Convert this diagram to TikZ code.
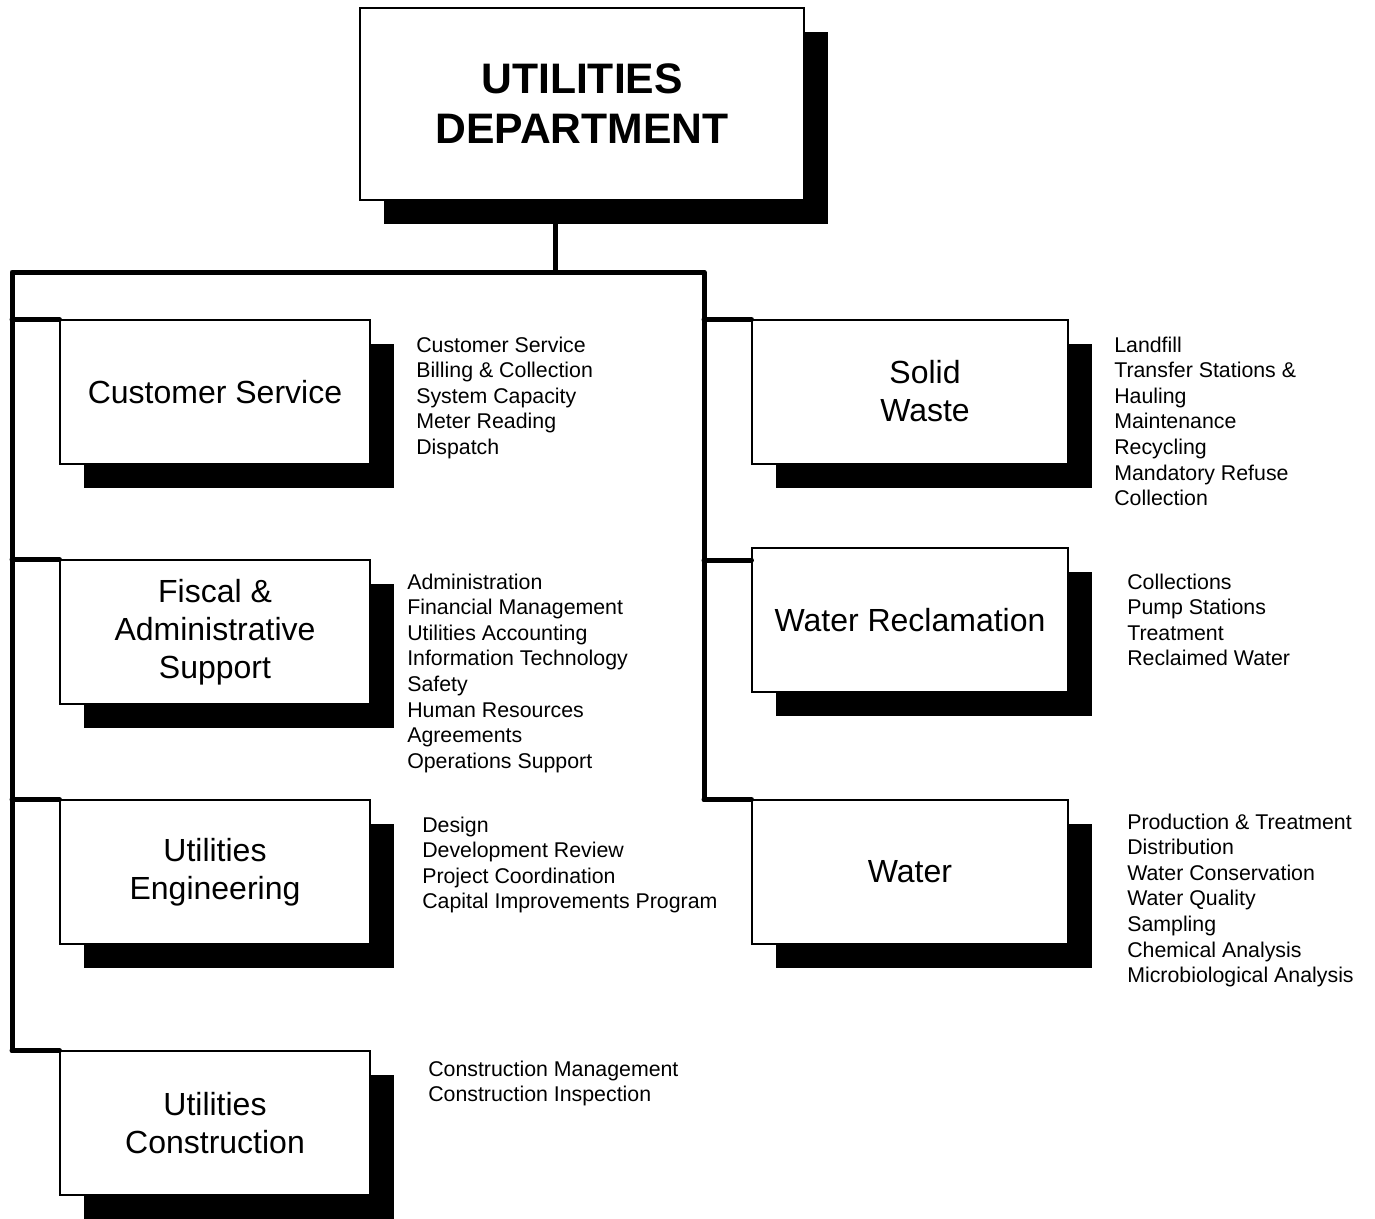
\documentclass[tikz,border=0pt]{standalone}
\usepackage{fontspec}
\setmainfont{Liberation Sans}
\usetikzlibrary{shadows}
\begin{document}
\begin{tikzpicture}[x=0.75pt,y=-0.75pt,
  box/.style={draw=black, line width=0.8pt, fill=white, minimum height=108pt, align=center, inner sep=0pt,
    drop shadow={shadow xshift=18pt, shadow yshift=-18pt, fill=black, opacity=1},
    font=\fontsize{24}{28.5}\selectfont},
  lbox/.style={box, minimum width=232.5pt},
  rbox/.style={box, minimum width=237pt},
  bus/.style={line width=3.75pt, line join=round, line cap=round},
  lst/.style={anchor=base west, inner sep=0pt, font=\fontsize{16}{19.24}\selectfont},
  lbl/.style={inner sep=0pt, align=center, font=\fontsize{24}{28.5}\selectfont}
]
\useasboundingbox (0,0) rectangle (1375,1218);

% top box
\node[box, minimum width=333pt, minimum height=144pt, font=\bfseries\fontsize{32}{37.5}\selectfont] (top) at (582,104) {UTILITIES\\DEPARTMENT};

% left boxes
\node[lbox] (cs) at (215,392) {Customer Service};
\node[lbox] (fa) at (215,632) {Fiscal \&\\Administrative\\Support};
\node[lbox] (ue) at (215,872) {Utilities\\Engineering};
\node[lbox] (uc) at (215,1123) {Utilities\\Construction};

% right boxes
\node[rbox] (sw) at (910,392) {};
\node[lbl] (swt) at (925,391) {Solid\\Waste};
\node[rbox] (wr) at (910,620) {Water Reclamation};
\node[rbox] (wt) at (910,872) {Water};

% bus
\coordinate (stem) at (555,272);
\coordinate (bl) at (12,272);
\coordinate (br) at (704,272);
\coordinate (wrj) at (704,560);
\draw[line width=3.75pt] (top.south -| stem) -- (stem);
\draw[bus] (uc.north west -| bl) -- (bl) -- (br) -- (wt.north west -| br);
\draw[bus] (cs.north west -| bl) -- (cs.north west);
\draw[bus] (fa.north west -| bl) -- (fa.north west);
\draw[bus] (ue.north west -| bl) -- (ue.north west);
\draw[bus] (uc.north west -| bl) -- (uc.north west);
\draw[bus] (sw.north west -| br) -- (sw.north west);
\draw[bus] (wrj) -- (wrj -| wr.west);
\draw[bus] (wt.north west -| br) -- (wt.north west);

% lists
\node[lst] (csl) at (416,352) {\begin{tabular}[t]{@{}l@{}}Customer Service\\Billing \& Collection\\System Capacity\\Meter Reading\\Dispatch\end{tabular}};
\node[lst] (fal) at (407,589) {\begin{tabular}[t]{@{}l@{}}Administration\\Financial Management\\Utilities Accounting\\Information Technology\\Safety\\Human Resources\\Agreements\\Operations Support\end{tabular}};
\node[lst] (uel) at (422,832) {\begin{tabular}[t]{@{}l@{}}Design\\Development Review\\Project Coordination\\Capital Improvements Program\end{tabular}};
\node[lst] (ucl) at (428,1076) {\begin{tabular}[t]{@{}l@{}}Construction Management\\Construction Inspection\end{tabular}};
\node[lst] (swl) at (1114,352) {\begin{tabular}[t]{@{}l@{}}Landfill\\Transfer Stations \&\\Hauling\\Maintenance\\Recycling\\Mandatory Refuse\\Collection\end{tabular}};
\node[lst] (wrl) at (1127,589) {\begin{tabular}[t]{@{}l@{}}Collections\\Pump Stations\\Treatment\\Reclaimed Water\end{tabular}};
\node[lst] (wtl) at (1127,829) {\begin{tabular}[t]{@{}l@{}}Production \& Treatment\\Distribution\\Water Conservation\\Water Quality\\Sampling\\Chemical Analysis\\Microbiological Analysis\end{tabular}};
\end{tikzpicture}
\end{document}
